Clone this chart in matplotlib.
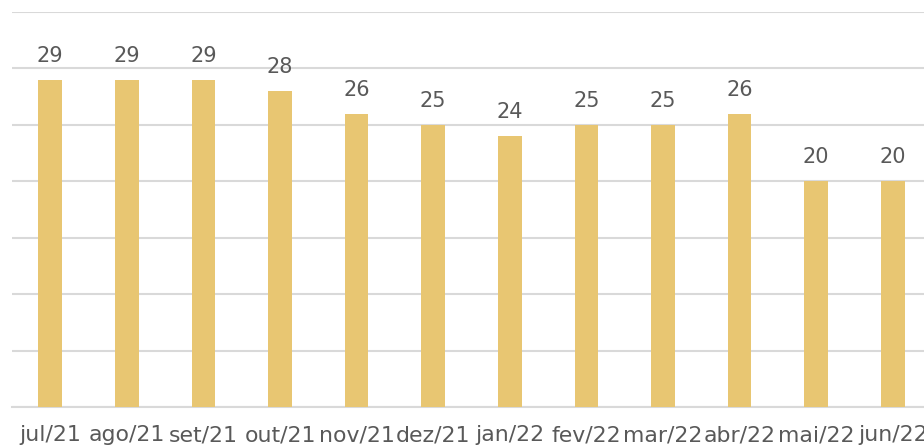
import matplotlib
matplotlib.use("Agg")
import matplotlib.pyplot as plt

categories = ["jul/21", "ago/21", "set/21", "out/21", "nov/21", "dez/21",
              "jan/22", "fev/22", "mar/22", "abr/22", "mai/22", "jun/22"]
values = [29, 29, 29, 28, 26, 25, 24, 25, 25, 26, 20, 20]

plt.rcParams['font.family'] = ['DejaVu Sans']

fig = plt.figure(figsize=(9.24, 4.47), dpi=100)
ax = fig.add_axes([12/924, 40/447, 919/924, 395/447])

x = list(range(len(categories)))
ax.bar(x, values, width=0.31, color="#E8C672", zorder=3)

for xi, v in zip(x, values):
    ax.annotate(str(v), (xi, v), xytext=(0, 10), textcoords="offset points",
                ha="center", va="bottom", fontsize=15, color="#595959")

ax.set_ylim(0, 35)
ax.set_xlim(-0.5, len(categories) - 0.5)
ax.set_yticks(range(0, 36, 5))
ax.yaxis.grid(True, color="#D9D9D9", linewidth=1.5, zorder=0)
ax.tick_params(axis="y", left=False, labelleft=False)
ax.set_xticks(x)
ax.set_xticklabels(categories, fontsize=15.8, color="#595959")
ax.tick_params(axis="x", length=0, pad=13)
for s in ["top", "right", "left"]:
    ax.spines[s].set_visible(False)
ax.spines["bottom"].set_color("#D9D9D9")
ax.spines["bottom"].set_linewidth(1.5)
ax.set_facecolor("white")
fig.patch.set_facecolor("white")

fig.savefig("out.png", dpi=100)
